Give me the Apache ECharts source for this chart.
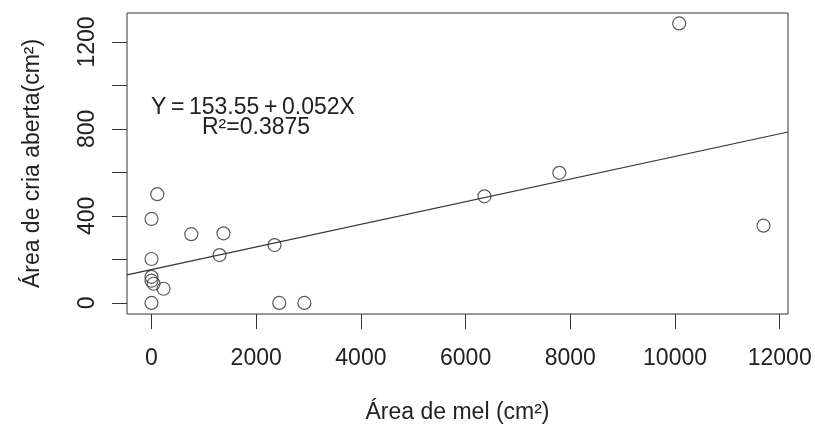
<!DOCTYPE html>
<html>
<head>
<meta charset="utf-8">
<script src="https://cdn.jsdelivr.net/npm/echarts@6/dist/echarts.min.js"></script>
<style>
  html, body { margin: 0; padding: 0; background: #fff; }
  #chart { width: 815px; height: 430px; }
</style>
</head>
<body>
<div id="chart"></div>
<script>
// dados
var melArea = [10080, 11690, 7790, 6360, 2350, 1300, 1375, 760, 110, 0, 0, 0, 0, 40, 230, 0, 2440, 2920];
var criaArea = [1285, 355, 598, 490, 266, 220, 320, 316, 500, 386, 202, 120, 102, 88, 65, 0, 0, 0];

var xTicks = [0, 2000, 4000, 6000, 8000, 10000, 12000];
var yTicks = [0, 200, 400, 600, 800, 1000, 1200];
var yLabels = [0, 400, 800, 1200];

// reta de regressao
var coef = [153.55, 0.052];
var xRange = [-468, 12158];
var yRange = [-51, 1333];

var font = 'Liberation Sans, Arial, sans-serif';
var ink = '#222';

var pts = [];
for (var i = 0; i < melArea.length; i++) {
    pts.push([melArea[i], criaArea[i]]);
}
var fitLine = [];
for (var j = 0; j < xRange.length; j++) {
    fitLine.push([xRange[j], coef[0] + coef[1] * xRange[j]]);
}

function plain(v) {
    return String(v);
}

var chart = echarts.init(document.getElementById('chart'));

var option = {
    backgroundColor: '#fff',
    animation: false,
    textStyle: { fontFamily: font, color: ink },
    grid: {
        left: 127, right: 27, top: 13, bottom: 116,
        show: true,
        borderColor: '#333',
        borderWidth: 1,
        backgroundColor: 'transparent'
    },
    xAxis: {
        type: 'value',
        min: xRange[0],
        max: xRange[1],
        splitLine: { show: false },
        axisLine: { show: false, onZero: false },
        axisTick: {
            show: true, length: 15, inside: false,
            customValues: xTicks,
            lineStyle: { color: '#333', width: 1 }
        },
        axisLabel: {
            customValues: xTicks,
            formatter: plain,
            margin: 33,
            fontSize: 23,
            fontFamily: font,
            color: ink
        },
        name: 'Área de mel (cm²)',
        nameLocation: 'middle',
        nameGap: 87,
        nameTextStyle: { fontSize: 23, fontFamily: font, color: ink }
    },
    yAxis: {
        type: 'value',
        min: yRange[0],
        max: yRange[1],
        splitLine: { show: false },
        axisLine: { show: false, onZero: false },
        axisTick: {
            show: true, length: 15, inside: false,
            customValues: yTicks,
            lineStyle: { color: '#333', width: 1 }
        },
        axisLabel: {
            customValues: yLabels,
            formatter: plain,
            rotate: 90,
            margin: 28,
            fontSize: 23,
            fontFamily: font,
            color: ink
        },
        name: 'Área de cria aberta(cm²)',
        nameLocation: 'middle',
        nameRotate: 90,
        nameGap: 83,
        nameTextStyle: { fontSize: 23, fontFamily: font, color: ink }
    },
    series: [
        {
            type: 'line',
            data: fitLine,
            symbol: 'none',
            silent: true,
            lineStyle: { color: '#333', width: 1.2 }
        },
        {
            type: 'scatter',
            data: pts,
            symbol: 'circle',
            symbolSize: 13,
            itemStyle: {
                color: 'rgba(0,0,0,0)',
                borderColor: '#333',
                borderWidth: 1.2
            }
        }
    ],
    graphic: [
        {
            type: 'text', left: 151, top: 96,
            style: { text: 'Y\u2009=\u2009153.55\u2009+\u20090.052X', font: '23px ' + font, fill: ink }
        },
        {
            type: 'text', left: 202, top: 116,
            style: { text: 'R²=0.3875', font: '23px ' + font, fill: ink }
        }
    ]
};

chart.setOption(option);
</script>
</body>
</html>
